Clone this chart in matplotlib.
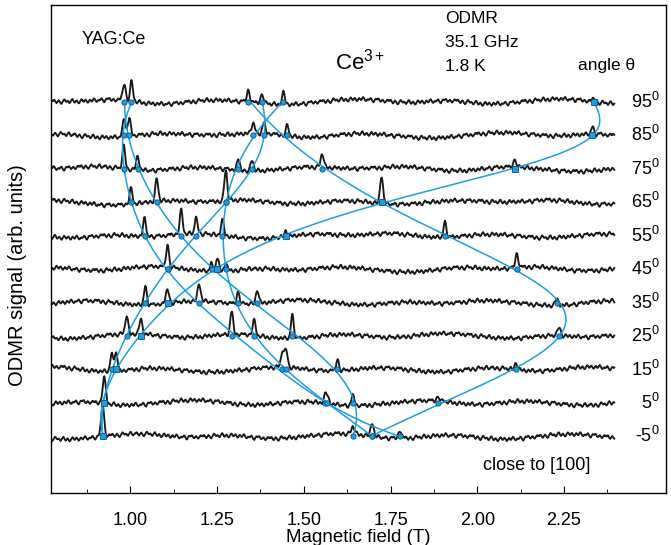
import numpy as np
import matplotlib.pyplot as plt

plt.rcParams['font.family'] = ['Liberation Sans', 'DejaVu Sans']
plt.rcParams['mathtext.fontset'] = 'custom'
plt.rcParams['mathtext.rm'] = 'Liberation Sans'
plt.rcParams['mathtext.it'] = 'Liberation Sans:italic'

# rotation angles (deg), one spectrum each
angles = [95, 85, 75, 65, 55, 45, 35, 25, 15, 5, -5]

# line positions (T) and heights (px above baseline)
peak_pos = [
    [0.982, 1.003, 1.340, 1.380, 1.441, 2.337],
    [0.982, 0.997, 1.354, 1.385, 1.452, 2.332],
    [0.981, 1.021, 1.311, 1.351, 1.553, 2.109],
    [1.001, 1.076, 1.275, 1.724],
    [1.041, 1.146, 1.190, 1.265, 1.448, 1.907],
    [1.107, 1.234, 1.251, 1.275, 2.114],
    [1.043, 1.107, 1.198, 1.311, 1.366, 2.229],
    [0.989, 1.030, 1.292, 1.356, 1.467, 2.236],
    [0.946, 0.958, 1.438, 1.449, 1.597, 2.112],
    [0.924, 1.561, 1.568, 1.642, 1.888],
    [0.920, 1.642, 1.697, 1.777],
]
peak_amp = [
    [17, 19, 12, 10, 12, 4],
    [19, 17, 11, 10, 10, 7],
    [22, 14, 10, 10, 14, 8],
    [16, 22, 30, 28],
    [18, 24, 16, 16, 6, 15],
    [22, 8, 12, 8, 14],
    [18, 15, 18, 12, 14, 7],
    [18, 15, 22, 16, 23, 9],
    [17, 19, 16, 18, 11, 7],
    [28, 7, 7, 10, 5],
    [32, 8, 14, 8],
]

# hand-drawn baseline wiggle (px)
noise_px = [0.4, -0.3, 0.8, 1.1, 0.2, -0.6, -1.2, -0.4, 0.5, 0.9, 0.3, -0.2, -0.9, -1.4,
            -0.7, 0.1, 0.6, 1.3, 0.9, 0.0, -0.5, -0.1, 0.7, 0.4, -0.8, -1.1, -0.3, 0.2,
            1.0, 1.4, 0.6, -0.4, -1.0, -0.6, 0.3, 0.8, 0.1, -0.7, -1.3, -0.9, 0.0, 0.5,
            1.2, 0.7, -0.2, -0.8, -0.4, 0.6, 1.0, 0.2, -0.5, -1.2, -0.8, 0.1, 0.9, 0.5,
            -0.3, -0.9, -0.2, 0.7, 1.3, 0.8, -0.1, -0.7, -1.1, -0.5, 0.4, 0.2, -0.6, -0.3,
            0.6, 1.1, 0.4, -0.4, -1.0, -1.5, -0.6, 0.3, 0.9, 0.4, -0.2, 0.5, 1.2, 0.6,
            -0.3, -0.9, -0.5, 0.2, 0.8, 0.3, -0.4, -1.1, -0.7, 0.0, 0.6, 0.9, 0.1]

# resonance positions (T) of the six branches at each angle
branch_sq = [2.337, 2.330, 2.109, 1.724, 1.448, 1.251, 1.107, 1.030, 0.958, 0.924, 0.920]
branch_b = [1.340, 1.452, 1.553, 1.724, 1.907, 2.114, 2.229, 2.236, 2.112, 1.888, 1.697]
branch_d = [1.003, 0.982, 0.981, 1.001, 1.041, 1.107, 1.198, 1.292, 1.438, 1.561, 1.777]
branch_e = [0.982, 0.997, 1.021, 1.076, 1.146, 1.234, 1.366, 1.467, 1.597, 1.642, 1.642]
branch_f = [1.380, 1.385, 1.351, 1.275, 1.190, 1.107, 1.043, 0.989, 0.946, 0.924, 0.920]
branch_g = [1.441, 1.354, 1.311, 1.275, 1.265, 1.275, 1.311, 1.356, 1.449, 1.568, 1.697]

blue = '#1c9fe0'
px = 10 / 33.43   # one pixel in angle units


def harmonics(t):
    cols = [np.ones_like(t)]
    for k in (2, 4, 6):
        cols += [np.cos(k*t), np.sin(k*t)]
    return np.column_stack(cols)


def fit_branch(theta, B):
    # angular dependence: 1/B^2 ~ g^2(theta), weighted so the error is in field
    B = np.array(B)
    w = B**3
    X = harmonics(np.radians(theta)) * w[:, None]
    coef = np.linalg.lstsq(X, w / B**2, rcond=None)[0]
    tf = np.linspace(-5, 95, 400)
    return 1/np.sqrt(harmonics(np.radians(tf)) @ coef), tf


fig = plt.figure(figsize=(6.71, 5.45), dpi=100)
ax = fig.add_axes([0.0765, 0.0945, 0.9160, 0.8963])

field = np.arange(0.775, 2.397, 0.002)
width = 0.0042
base = np.resize(noise_px, field.size)
slow = np.convolve(np.repeat(noise_px, 25), np.ones(60) / 60, mode='same')
for i, (ang, pos, amp) in enumerate(zip(angles, peak_pos, peak_amp)):
    sig = np.roll(base, 23 * i + 7 * i * i)
    sig = 1.1 * sig + 1.4 * np.convolve(sig, np.ones(5) / 5, mode='same')
    sig = sig + 2.6 * np.resize(np.roll(slow, 211 * i), field.size)
    for p, a in zip(pos, amp):
        sig = sig + a * np.exp(-0.5 * ((field - p) / width) ** 2)
    ax.plot(field, ang + px * sig, color='#1a1a1a', lw=1.35, zorder=2)

th = np.array(angles, dtype=float)
for br in [branch_sq, branch_b, branch_d, branch_e, branch_f, branch_g]:
    bx, by = fit_branch(th, br)
    ax.plot(bx, by, color=blue, lw=1.1, zorder=3)

for br in [branch_b, branch_d, branch_e, branch_f, branch_g]:
    ax.plot(br, th, 'o', ms=3.8, mfc=blue, mec='#0d4f86', mew=0.6, zorder=4)
ax.plot(branch_sq, th, 's', ms=4.4, mfc=blue, mec='#0d4f86', mew=0.6, zorder=5)

for ang in angles:
    ax.text(2.527, ang, '%d$^{0}$' % ang, ha='right', va='center', fontsize=13)

ax.text(0.86, 113.5, 'YAG:Ce', fontsize=13, va='center')
ax.text(1.907, 120.0, 'ODMR', fontsize=12.5, va='center')
ax.text(1.907, 112.6, '35.1 GHz', fontsize=12.5, va='center')
ax.text(1.907, 105.4, '1.8 K', fontsize=12.5, va='center')
ax.text(1.590, 106.9, 'Ce$^{3+}$', fontsize=16, va='center')
ax.text(2.290, 105.7, 'angle θ', fontsize=12.5, va='center')
ax.text(2.016, -13.7, 'close to [100]', fontsize=13, va='center')

ax.set_xlim(0.772, 2.544)
ax.set_ylim(-22.05, 123.9)
ax.set_xticks([1.0, 1.25, 1.5, 1.75, 2.0, 2.25])
ax.set_xticklabels(['1.00', '1.25', '1.50', '1.75', '2.00', '2.25'])
ax.set_xticks(np.arange(0.875, 2.4, 0.25), minor=True)
ax.set_yticks([])
ax.tick_params(axis='x', which='major', direction='in', length=5, pad=13, labelsize=13)
ax.tick_params(axis='x', which='minor', direction='in', length=3)
ax.set_xlabel('Magnetic field (T)', fontsize=13.5, labelpad=0)
ax.set_ylabel('ODMR signal (arb. units)', fontsize=14.5)
ax.yaxis.set_label_coords(-0.040, 0.447)
for s in ax.spines.values():
    s.set_linewidth(1.0)

fig.savefig('out.png', dpi=100)
